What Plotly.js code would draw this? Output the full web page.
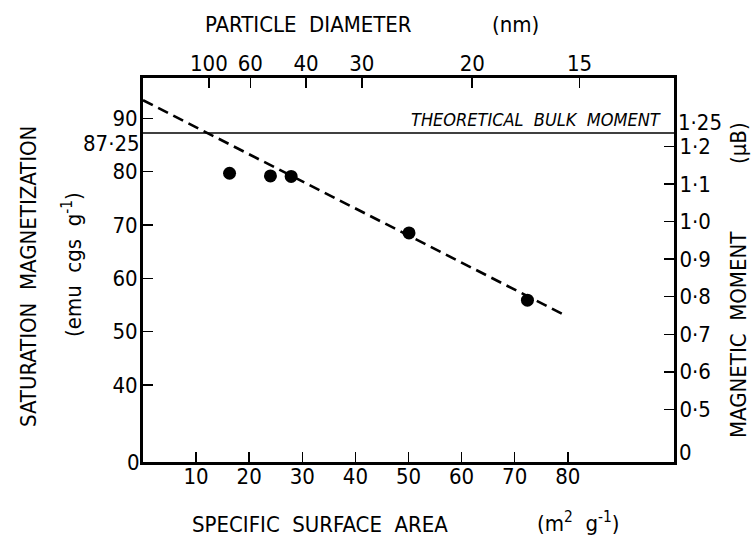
<!DOCTYPE html>
<html><head><meta charset="utf-8">
<script src="https://cdn.plot.ly/plotly-3.0.1.min.js"></script>
<style>html,body{margin:0;padding:0;background:#fff}#chart{width:755px;height:537px}</style>
</head><body><div id="chart"></div>
<script>
// ---- data ----
const surfaceArea = [16.3, 24.0, 27.9, 50.1, 72.4];          // m^2 g^-1
const saturationMag = [79.7, 79.2, 79.1, 68.5, 55.9];        // emu cgs g^-1
const fitArea = [0, 79.4];
const fitMag = [93.4, 53.1];
const bulkMag = 87.25;
const bulkMagLabel = '87·25';
const bulkText = 'THEORETICAL\u00a0\u00a0BULK\u00a0\u00a0MOMENT';
const xTickVals = [10, 20, 30, 40, 50, 60, 70, 80];
const yTickVals = [40, 50, 60, 70, 80, 90];
const diameterPos = [12.4, 20.2, 30.7, 41.2, 62.0, 82.2];
const diameterLabels = ['100', '60', '40', '30', '20', '15'];
const momentTickVals = [0.5, 0.6, 0.7, 0.8, 0.9, 1.0, 1.1, 1.2];
const momentTickText = ['0·5', '0·6', '0·7', '0·8', '0·9', '1·0', '1·1', '1·2'];
const bulkMomentLabel = '1·25';

// ---- layout helpers (pixel -> paper) ----
const L = 143, R = 674, T = 78, B = 462;
const W = 755, H = 537;
const X = px => (px - L) / (R - L);
const Y = py => (B - py) / (B - T);
const yRange = [25.55, 97.56];
const mRange = [0.3595, 1.383];

const FONT = 'Liberation Sans Narrow, DejaVu Sans Condensed, Arial Narrow, sans-serif';
const fnt = (s) => ({family: FONT, size: s, color: '#000'});

const traces = [
  {x: fitArea, y: fitMag, mode: 'lines', type: 'scatter',
   line: {color: '#000', width: 2.6, dash: '11px,6px'}, hoverinfo: 'skip', showlegend: false},
  {x: surfaceArea, y: saturationMag, mode: 'markers', type: 'scatter',
   marker: {color: '#000', size: 13}, showlegend: false},
  {x: [null], y: [null], xaxis: 'x2', yaxis: 'y', type: 'scatter', mode: 'markers', showlegend: false},
  {x: [null], y: [null], xaxis: 'x', yaxis: 'y2', type: 'scatter', mode: 'markers', showlegend: false}
];

const axisCommon = {
  showgrid: false, zeroline: false, showline: true, linecolor: '#000', linewidth: 3,
  ticks: 'inside', ticklen: 10, tickwidth: 1.5, tickcolor: '#000', tickfont: fnt(22),
  fixedrange: true
};

const ann = (text, px, py, xa, extra) => Object.assign({
  text: text, xref: 'paper', yref: 'paper', x: X(px), y: Y(py),
  xanchor: xa, yanchor: 'middle', showarrow: false, font: fnt(22)
}, extra || {});

const layout = {
  width: W, height: H,
  margin: {l: L, r: W - R, t: T, b: H - B, pad: 0},
  paper_bgcolor: '#fff', plot_bgcolor: '#fff',
  font: fnt(22),
  xaxis: Object.assign({}, axisCommon, {range: [0, 100], tickmode: 'array', tickvals: xTickVals,
    ticktext: xTickVals.map(String), ticklabelstandoff: -7}),
  xaxis2: Object.assign({}, axisCommon, {overlaying: 'x', side: 'top', range: [0, 100],
    tickmode: 'array', tickvals: diameterPos, ticktext: diameterLabels, ticklabelstandoff: -5}),
  yaxis: Object.assign({}, axisCommon, {range: yRange, tickmode: 'array', tickvals: yTickVals,
    ticktext: yTickVals.map(String), ticklabelstandoff: -2}),
  yaxis2: Object.assign({}, axisCommon, {overlaying: 'y', side: 'right', range: mRange,
    tickmode: 'array', tickvals: momentTickVals, ticktext: momentTickText, ticklabelstandoff: -2}),
  shapes: [
    {type: 'line', xref: 'paper', x0: 0, x1: 1, yref: 'y', y0: bulkMag, y1: bulkMag,
     line: {color: '#000', width: 1.3}}
  ],
  annotations: [
    ann('PARTICLE\u00a0\u00a0DIAMETER', 203, 24, 'left'),
    ann('(nm)', 490, 24, 'left'),
    ann('SPECIFIC\u00a0\u00a0SURFACE\u00a0\u00a0AREA', 190, 524, 'left'),
    ann('(m<sup>2</sup>\u00a0\u00a0g<sup>-1</sup>)', 535, 522, 'left'),
    ann('SATURATION\u00a0\u00a0MAGNETIZATION', 28, 277, 'center', {textangle: -90}),
    ann('(emu\u00a0\u00a0cgs\u00a0\u00a0g<sup>-1</sup>)', 72, 265, 'center', {textangle: -90}),
    ann('MAGNETIC\u00a0\u00a0MOMENT', 738, 335, 'center', {textangle: -90}),
    ann('(\u03bcB)', 738, 143, 'center', {textangle: -90}),
    ann(bulkMagLabel, 142, 143, 'right'),
    ann('0', 142, 462, 'right'),
    ann(bulkMomentLabel, 676, 122, 'left'),
    ann('0', 677, 452, 'left'),
    {text: bulkText, xref: 'paper', yref: 'y', x: X(663), y: bulkMag, xanchor: 'right',
     yanchor: 'bottom', yshift: 1, showarrow: false,
     font: {family: FONT, size: 18, color: '#000', style: 'italic'}}
  ]
};

Plotly.newPlot('chart', traces, layout, {displayModeBar: false, staticPlot: true});
</script>
</body></html>
